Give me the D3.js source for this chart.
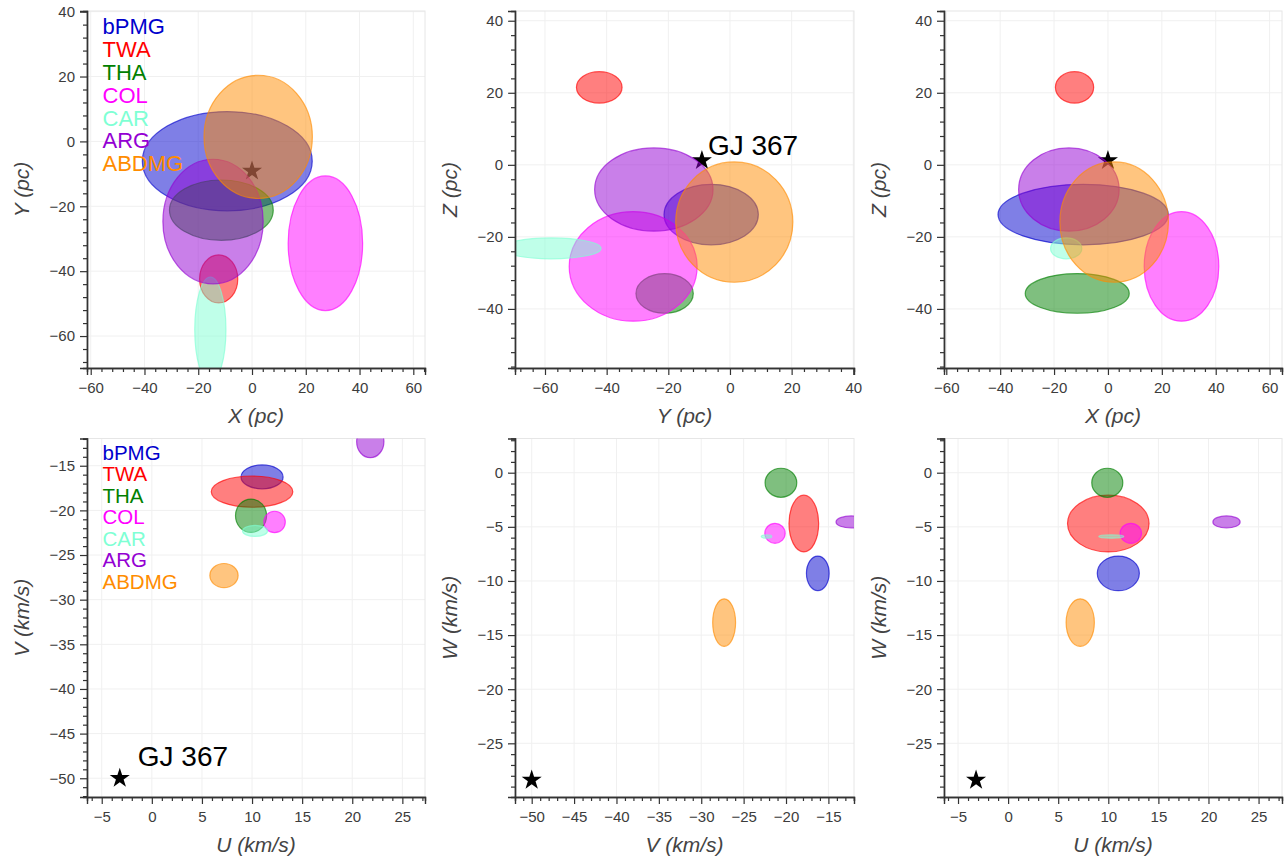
<!DOCTYPE html>
<html>
<head>
<meta charset="utf-8">
<script src="https://cdn.jsdelivr.net/npm/d3@7"></script>
<style>
  body { margin: 0; background: #fff; }
  svg { display: block; font-family: "Liberation Sans", Arial, sans-serif; }
</style>
</head>
<body>
<svg id="chart" width="1287" height="860"></svg>
<script>
// moving groups
const groups = ["bPMG", "TWA", "THA", "COL", "CAR", "ARG", "ABDMG"];
const colors = ["mediumblue", "red", "green", "magenta", "aquamarine", "darkviolet", "darkorange"];

// galactic positions (pc): centres and 1-sigma semi-axes
const posX = [-9.2, -12.4, -11.4, 27.3, -15.5, -14.5, 2.3];
const posY = [-6.1, -42.4, -21.2, -31.4, -58.0, -24.7, 1.4];
const posZ = [-13.8, 21.5, -35.7, -28.2, -23.2, -6.85, -15.9];
const sigX = [31.6, 7.1, 19.3, 13.85, 5.8, 18.65, 20.15];
const sigY = [15.3, 7.4, 9.3, 20.75, 16.2, 19.2, 19.0];
const sigZ = [8.4, 4.35, 5.5, 15.2, 2.9, 11.55, 16.7];

// space velocities (km/s)
const velU = [11.0, 10.0, 9.9, 12.25, 10.3, 21.8, 7.2];
const velV = [-16.25, -17.9, -20.6, -21.3, -22.3, -12.3, -27.3];
const velW = [-9.3, -4.7, -0.93, -5.6, -5.9, -4.55, -13.85];
const sigU = [2.1, 4.07, 1.55, 1.07, 1.25, 1.36, 1.41];
const sigV = [1.34, 1.75, 1.87, 1.2, 0.62, 1.8, 1.35];
const sigW = [1.6, 2.62, 1.34, 0.92, 0.15, 0.56, 2.2];

// GJ 367
const starName = "GJ 367";
const starPos = {X: 0, Y: -9.1, Z: 1.2};
const starVel = {U: -3.2, V: -50, W: -28.4};

const coords = {
  X: [posX, sigX], Y: [posY, sigY], Z: [posZ, sigZ],
  U: [velU, sigU], V: [velV, sigV], W: [velW, sigW]
};
const star = Object.assign({}, starPos, starVel);

const cols = [{l: 87, r: 425}, {l: 515, r: 854}, {l: 944, r: 1282}];
const rows = [{t: 11, b: 368}, {t: 438.5, b: 797}];

const panels = [
  {c: 0, r: 0, xk: "X", yk: "Y", xd: [-61.38, 64.35], yd: [-69.85, 40.2], step: 20, minor: 4, unit: "pc", legend: true},
  {c: 1, r: 0, xk: "Y", yk: "Z", xd: [-69.73, 40.23], yd: [-56.4, 42.7], step: 20, minor: 4, unit: "pc", label: [6, -6]},
  {c: 2, r: 0, xk: "X", yk: "Z", xd: [-60.85, 64.6], yd: [-56.4, 42.7], step: 20, minor: 4, unit: "pc"},
  {c: 0, r: 1, xk: "U", yk: "V", xd: [-6.47, 27.26], yd: [-52.1, -11.95], step: 5, minor: 1, unit: "km/s", legend: true, label: [18, -12]},
  {c: 1, r: 1, xk: "V", yk: "W", xd: [-51.97, -11.98], yd: [-29.96, 3.16], step: 5, minor: 1, unit: "km/s"},
  {c: 2, r: 1, xk: "U", yk: "W", xd: [-6.4, 27.34], yd: [-29.96, 3.16], step: 5, minor: 1, unit: "km/s"}
];

const svg = d3.select("#chart");

function tickVals(domain, step) {
  const lo = Math.ceil(domain[0] / step - 1e-9) * step;
  return d3.range(lo, domain[1] + 1e-9, step).map(v => +v.toFixed(6));
}

panels.forEach((p, pi) => {
  const box = {l: cols[p.c].l, r: cols[p.c].r, t: rows[p.r].t, b: rows[p.r].b};
  const x = d3.scaleLinear().domain(p.xd).range([box.l, box.r]);
  const y = d3.scaleLinear().domain(p.yd).range([box.b, box.t]);
  const g = svg.append("g");

  const majX = tickVals(p.xd, p.step), majY = tickVals(p.yd, p.step);
  const minX = tickVals(p.xd, p.minor).filter(v => !majX.includes(v));
  const minY = tickVals(p.yd, p.minor).filter(v => !majY.includes(v));

  // grid
  g.append("g").selectAll("line").data(majX).join("line")
    .attr("x1", d => x(d)).attr("x2", d => x(d)).attr("y1", box.t).attr("y2", box.b)
    .attr("stroke", "#f0f0f0").attr("stroke-width", 1);
  g.append("g").selectAll("line").data(majY).join("line")
    .attr("y1", d => y(d)).attr("y2", d => y(d)).attr("x1", box.l).attr("x2", box.r)
    .attr("stroke", "#f0f0f0").attr("stroke-width", 1);
  g.append("rect").attr("x", box.l).attr("y", box.t)
    .attr("width", box.r - box.l).attr("height", box.b - box.t)
    .attr("fill", "none").attr("stroke", "#e6e6e6");

  const clipId = "clip" + pi;
  svg.append("clipPath").attr("id", clipId).append("rect")
    .attr("x", box.l).attr("y", box.t).attr("width", box.r - box.l).attr("height", box.b - box.t);
  const plot = g.append("g").attr("clip-path", `url(#${clipId})`);

  // star (below the ellipses)
  plot.append("path")
    .attr("d", d3.symbol(d3.symbolStar, 125)())
    .attr("transform", `translate(${x(star[p.xk])},${y(star[p.yk])})`)
    .attr("fill", "black");

  const [cx, sx] = coords[p.xk];
  const [cy, sy] = coords[p.yk];
  plot.selectAll("ellipse").data(groups).join("ellipse")
    .attr("cx", (d, i) => x(cx[i]))
    .attr("cy", (d, i) => y(cy[i]))
    .attr("rx", (d, i) => Math.abs(x(cx[i] + sx[i]) - x(cx[i])))
    .attr("ry", (d, i) => Math.abs(y(cy[i] + sy[i]) - y(cy[i])))
    .attr("fill", (d, i) => colors[i]).attr("fill-opacity", 0.5)
    .attr("stroke", (d, i) => colors[i]).attr("stroke-opacity", 0.65).attr("stroke-width", 1.2);

  if (p.label) {
    g.append("text")
      .attr("x", x(star[p.xk]) + p.label[0]).attr("y", y(star[p.yk]) + p.label[1])
      .attr("font-size", 28).attr("fill", "black").text(starName);
  }

  // axes
  const axX = g.append("g").attr("transform", `translate(0,${box.b})`);
  axX.append("g").call(d3.axisBottom(x).tickValues(minX).tickSize(4).tickFormat(""));
  axX.append("g").call(d3.axisBottom(x).tickValues(majX).tickSize(7).tickPadding(7));
  const axY = g.append("g").attr("transform", `translate(${box.l},0)`);
  axY.append("g").call(d3.axisLeft(y).tickValues(minY).tickSize(4).tickFormat(""));
  axY.append("g").call(d3.axisLeft(y).tickValues(majY).tickSize(7).tickPadding(5));
  [axX, axY].forEach(a => {
    a.selectAll(".domain").attr("stroke", "#333").attr("stroke-width", 1.4);
    a.selectAll(".tick line").attr("stroke", "#333").attr("stroke-width", 1.2);
    a.selectAll(".tick text").attr("font-size", 15).attr("fill", "#3c3c3c")
      .attr("font-family", "Liberation Sans, Arial, sans-serif");
  });

  g.append("text")
    .attr("x", (box.l + box.r) / 2).attr("y", box.b + 55)
    .attr("text-anchor", "middle").attr("font-size", 21).attr("font-style", "italic")
    .attr("fill", "#444").text(`${p.xk} (${p.unit})`);
  g.append("text")
    .attr("transform", `translate(${box.l - 58},${(box.t + box.b) / 2}) rotate(-90)`)
    .attr("text-anchor", "middle").attr("font-size", 21).attr("font-style", "italic")
    .attr("fill", "#444").text(`${p.yk} (${p.unit})`);

  if (p.legend) {
    const gap = p.r === 0 ? 22.8 : 21.5;
    const top = p.r === 0 ? 34.3 : 459.5;
    const size = p.r === 0 ? 22 : 20.5;
    g.append("g").selectAll("text").data(groups).join("text")
      .attr("x", box.l + 15.5).attr("y", (d, i) => top + i * gap)
      .attr("font-size", size).attr("fill", (d, i) => colors[i]).text(d => d);
  }
});
</script>
</body>
</html>
